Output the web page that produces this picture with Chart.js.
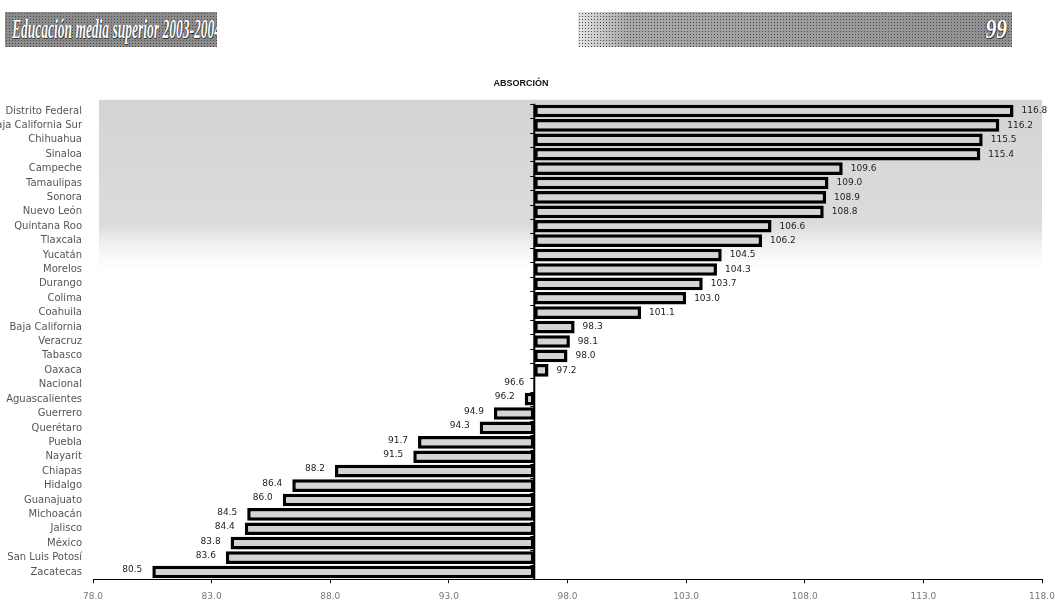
<!DOCTYPE html>
<html>
<head>
<meta charset="utf-8">
<title>Absorción</title>
<script src="https://cdn.jsdelivr.net/npm/chart.js@4.4.1/dist/chart.umd.min.js"></script>
<style>
  body { margin: 0; background: #fff; width: 1055px; height: 603px; overflow: hidden; position: relative; }
  .banner { position: absolute; top: 12px; height: 35px; overflow: hidden;
    background-color: #8c8c8c;
    background-image: radial-gradient(#4a4a4a 0.8px, transparent 1px);
    background-size: 3px 3px; }
  .banner span { position: absolute; top: 0; color: #fff; font-family: 'Liberation Serif', serif;
    font-weight: bold; font-style: italic; font-size: 27px; line-height: 35px; white-space: nowrap;
    text-shadow: 1px 1px 0 #333, -1px 0 0 #333; }
  #left { left: 5px; width: 212px; }
  #left span { left: 7px; transform: scaleX(0.5); transform-origin: left center; }
  #right { left: 578px; width: 434px;
    background-color: #8e8e8e;
    background-image: radial-gradient(#4a4a4a 0.8px, transparent 1px), linear-gradient(90deg, #e4e4e4 0, #a8a8a8 50px, #909090 100%);
    background-size: 3px 3px, 100% 100%; }
  #right span { right: 5px; transform: scaleX(0.8); transform-origin: right center; }
  #chartBox { position: absolute; left: 0; top: 70px; width: 1055px; height: 540px; }
</style>
</head>
<body>
<div class="banner" id="left"><span>Educación media superior 2003-2004</span></div>
<div class="banner" id="right"><span>99</span></div>
<div id="chartBox"><canvas id="myChart"></canvas></div>
<script>
var states = ['Distrito Federal', 'Baja California Sur', 'Chihuahua', 'Sinaloa', 'Campeche',
    'Tamaulipas', 'Sonora', 'Nuevo León', 'Quintana Roo', 'Tlaxcala', 'Yucatán', 'Morelos',
    'Durango', 'Colima', 'Coahuila', 'Baja California', 'Veracruz', 'Tabasco', 'Oaxaca',
    'Nacional', 'Aguascalientes', 'Guerrero', 'Querétaro', 'Puebla', 'Nayarit', 'Chiapas',
    'Hidalgo', 'Guanajuato', 'Michoacán', 'Jalisco', 'México', 'San Luis Potosí', 'Zacatecas']
var absorcion = [116.8, 116.2, 115.5, 115.4, 109.6, 109.0, 108.9, 108.8, 106.6, 106.2, 104.5, 104.3,
    103.7, 103.0, 101.1, 98.3, 98.1, 98.0, 97.2,
    96.6, 96.2, 94.9, 94.3, 91.7, 91.5, 88.2, 86.4, 86.0, 84.5, 84.4, 83.8, 83.6, 80.5]
var nacional = 96.6
var xMin = 78, xMax = 118, xStep = 5

// bars float from the national value to each state value
var bars = absorcion.map((v) => {
    return [nacional, v]
})

var shading = {
    id: 'shading',
    beforeDatasetsDraw: function (chart) {
        var a = chart.chartArea
        var ctx = chart.ctx
        var g = ctx.createLinearGradient(0, a.top, 0, a.top + 175)
        g.addColorStop(0, '#d4d4d4')
        g.addColorStop(0.7, '#dcdcdc')
        g.addColorStop(1, 'rgba(255,255,255,0)')
        ctx.save()
        ctx.fillStyle = g
        ctx.fillRect(a.left + 6, a.top - 4, a.right - a.left - 6, 179)
        ctx.restore()
    }
}

var axisAndLabels = {
    id: 'axisAndLabels',
    afterDatasetsDraw: function (chart) {
        var ctx = chart.ctx
        var xs = chart.scales.x
        var ys = chart.scales.y
        var x0 = xs.getPixelForValue(nacional)
        ctx.save()
        // vertical axis at the national value
        ctx.strokeStyle = '#000'
        ctx.lineWidth = 2
        ctx.beginPath()
        ctx.moveTo(x0, chart.chartArea.top)
        ctx.lineTo(x0, chart.chartArea.bottom)
        ctx.stroke()
        ctx.lineWidth = 1
        for (var i = 0; i <= states.length; i++) {
            var yy = Math.round(ys.getPixelForValue(i - 0.5)) + 0.5
            ctx.beginPath()
            ctx.moveTo(x0 - 4, yy)
            ctx.lineTo(x0, yy)
            ctx.stroke()
        }
        // value labels
        ctx.font = '9px "DejaVu Sans", sans-serif'
        ctx.fillStyle = '#222'
        ctx.textBaseline = 'middle'
        chart.getDatasetMeta(0).data.forEach((bar, i) => {
            var v = absorcion[i]
            var xe = xs.getPixelForValue(v)
            if (v > nacional) {
                ctx.textAlign = 'left'
                ctx.fillText(v.toFixed(1), xe + 8, bar.y)
            } else {
                ctx.textAlign = 'right'
                ctx.fillText(v.toFixed(1), xe - 10, bar.y - 2)
            }
        })
        ctx.restore()
    }
}

var ctx = document.getElementById('myChart').getContext('2d')
var myChart = new Chart(ctx, {
    type: 'bar',
    data: {
        labels: states,
        datasets: [{
            data: bars,
            backgroundColor: '#d4d4d4',
            borderColor: '#000',
            borderWidth: 3.5,
            borderSkipped: false,
            barPercentage: 0.88,
            categoryPercentage: 1
        }]
    },
    options: {
        indexAxis: 'y',
        responsive: true,
        maintainAspectRatio: false,
        animation: false,
        layout: { padding: { left: 0, right: 13, top: 0, bottom: 0 } },
        scales: {
            x: {
                min: xMin,
                max: xMax,
                grid: { drawOnChartArea: false, drawTicks: true, tickLength: 4, color: '#000' },
                border: { display: true, color: '#000', width: 1 },
                ticks: {
                    stepSize: xStep,
                    padding: 8,
                    color: '#777',
                    font: { family: 'DejaVu Sans', size: 9 },
                    maxRotation: 0,
                    callback: function (value) {
                        return value.toFixed(1)
                    }
                },
                afterFit: function (scale) {
                    scale.paddingRight = 0
                    scale.paddingLeft = 0
                }
            },
            y: {
                grid: { display: false, drawTicks: false },
                border: { display: false },
                ticks: {
                    padding: 11,
                    color: '#555',
                    font: { family: 'DejaVu Sans', size: 10 },
                    autoSkip: false
                },
                afterFit: function (scale) {
                    scale.width = 93
                }
            }
        },
        plugins: {
            legend: { display: false },
            tooltip: { enabled: false },
            title: {
                display: true,
                text: 'ABSORCIÓN',
                color: '#111',
                font: { family: 'Liberation Sans', size: 9, weight: 'bold' },
                padding: { top: 8, bottom: 15 }
            }
        }
    },
    plugins: [shading, axisAndLabels]
})
</script>
</body>
</html>
